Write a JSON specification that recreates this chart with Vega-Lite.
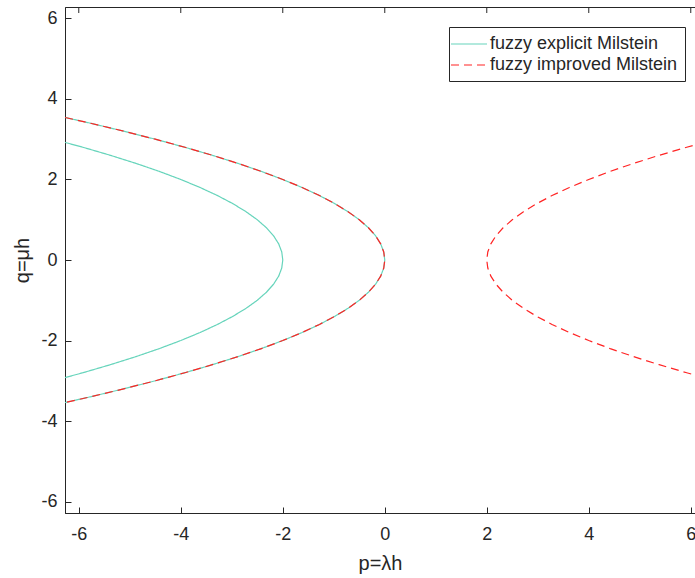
{
  "$schema": "https://vega.github.io/schema/vega-lite/v6.json",
  "width": 630,
  "height": 506,
  "autosize": "none",
  "padding": {"left": 65, "top": 7, "right": 0, "bottom": 65},
  "background": "white",
  "config": {
    "view": {"stroke": "#262626", "strokeWidth": 1},
    "axis": {
      "labelFont": "Liberation Sans",
      "titleFont": "Liberation Sans",
      "labelFontSize": 18,
      "titleFontSize": 20,
      "labelColor": "#262626",
      "titleColor": "#262626",
      "titleFontWeight": "normal",
      "domainColor": "#262626",
      "tickColor": "#262626",
      "tickSize": -6,
      "grid": false
    },
    "legend": {
      "strokeColor": "#262626",
      "fillColor": "white",
      "padding": 7,
      "labelFont": "Liberation Sans",
      "labelFontSize": 18,
      "labelColor": "#262626",
      "labelLimit": 400,
      "symbolType": "M-2,0H2",
      "symbolSize": 324,
      "symbolStrokeWidth": 1.2,
      "symbolOffset": 3,
      "labelOffset": 11,
      "rowPadding": 2,
      "cornerRadius": 0
    }
  },
  "datasets": {
    "curves": [
      {"s": "fuzzy explicit Milstein", "c": "A", "q": -3.0, "p": -6.5},
      {"s": "fuzzy explicit Milstein", "c": "A", "q": -2.8, "p": -5.92},
      {"s": "fuzzy explicit Milstein", "c": "A", "q": -2.6, "p": -5.38},
      {"s": "fuzzy explicit Milstein", "c": "A", "q": -2.4, "p": -4.88},
      {"s": "fuzzy explicit Milstein", "c": "A", "q": -2.2, "p": -4.42},
      {"s": "fuzzy explicit Milstein", "c": "A", "q": -2.0, "p": -4.0},
      {"s": "fuzzy explicit Milstein", "c": "A", "q": -1.8, "p": -3.62},
      {"s": "fuzzy explicit Milstein", "c": "A", "q": -1.6, "p": -3.28},
      {"s": "fuzzy explicit Milstein", "c": "A", "q": -1.4, "p": -2.98},
      {"s": "fuzzy explicit Milstein", "c": "A", "q": -1.2, "p": -2.72},
      {"s": "fuzzy explicit Milstein", "c": "A", "q": -1.0, "p": -2.5},
      {"s": "fuzzy explicit Milstein", "c": "A", "q": -0.8, "p": -2.32},
      {"s": "fuzzy explicit Milstein", "c": "A", "q": -0.6, "p": -2.18},
      {"s": "fuzzy explicit Milstein", "c": "A", "q": -0.4, "p": -2.08},
      {"s": "fuzzy explicit Milstein", "c": "A", "q": -0.2, "p": -2.02},
      {"s": "fuzzy explicit Milstein", "c": "A", "q": 0.0, "p": -2.0},
      {"s": "fuzzy explicit Milstein", "c": "A", "q": 0.2, "p": -2.02},
      {"s": "fuzzy explicit Milstein", "c": "A", "q": 0.4, "p": -2.08},
      {"s": "fuzzy explicit Milstein", "c": "A", "q": 0.6, "p": -2.18},
      {"s": "fuzzy explicit Milstein", "c": "A", "q": 0.8, "p": -2.32},
      {"s": "fuzzy explicit Milstein", "c": "A", "q": 1.0, "p": -2.5},
      {"s": "fuzzy explicit Milstein", "c": "A", "q": 1.2, "p": -2.72},
      {"s": "fuzzy explicit Milstein", "c": "A", "q": 1.4, "p": -2.98},
      {"s": "fuzzy explicit Milstein", "c": "A", "q": 1.6, "p": -3.28},
      {"s": "fuzzy explicit Milstein", "c": "A", "q": 1.8, "p": -3.62},
      {"s": "fuzzy explicit Milstein", "c": "A", "q": 2.0, "p": -4.0},
      {"s": "fuzzy explicit Milstein", "c": "A", "q": 2.2, "p": -4.42},
      {"s": "fuzzy explicit Milstein", "c": "A", "q": 2.4, "p": -4.88},
      {"s": "fuzzy explicit Milstein", "c": "A", "q": 2.6, "p": -5.38},
      {"s": "fuzzy explicit Milstein", "c": "A", "q": 2.8, "p": -5.92},
      {"s": "fuzzy explicit Milstein", "c": "A", "q": 3.0, "p": -6.5},
      {"s": "fuzzy explicit Milstein", "c": "B", "q": -3.6, "p": -6.48},
      {"s": "fuzzy explicit Milstein", "c": "B", "q": -3.4, "p": -5.78},
      {"s": "fuzzy explicit Milstein", "c": "B", "q": -3.2, "p": -5.12},
      {"s": "fuzzy explicit Milstein", "c": "B", "q": -3.0, "p": -4.5},
      {"s": "fuzzy explicit Milstein", "c": "B", "q": -2.8, "p": -3.92},
      {"s": "fuzzy explicit Milstein", "c": "B", "q": -2.6, "p": -3.38},
      {"s": "fuzzy explicit Milstein", "c": "B", "q": -2.4, "p": -2.88},
      {"s": "fuzzy explicit Milstein", "c": "B", "q": -2.2, "p": -2.42},
      {"s": "fuzzy explicit Milstein", "c": "B", "q": -2.0, "p": -2.0},
      {"s": "fuzzy explicit Milstein", "c": "B", "q": -1.8, "p": -1.62},
      {"s": "fuzzy explicit Milstein", "c": "B", "q": -1.6, "p": -1.28},
      {"s": "fuzzy explicit Milstein", "c": "B", "q": -1.4, "p": -0.98},
      {"s": "fuzzy explicit Milstein", "c": "B", "q": -1.2, "p": -0.72},
      {"s": "fuzzy explicit Milstein", "c": "B", "q": -1.0, "p": -0.5},
      {"s": "fuzzy explicit Milstein", "c": "B", "q": -0.8, "p": -0.32},
      {"s": "fuzzy explicit Milstein", "c": "B", "q": -0.6, "p": -0.18},
      {"s": "fuzzy explicit Milstein", "c": "B", "q": -0.4, "p": -0.08},
      {"s": "fuzzy explicit Milstein", "c": "B", "q": -0.2, "p": -0.02},
      {"s": "fuzzy explicit Milstein", "c": "B", "q": 0.0, "p": 0.0},
      {"s": "fuzzy explicit Milstein", "c": "B", "q": 0.2, "p": -0.02},
      {"s": "fuzzy explicit Milstein", "c": "B", "q": 0.4, "p": -0.08},
      {"s": "fuzzy explicit Milstein", "c": "B", "q": 0.6, "p": -0.18},
      {"s": "fuzzy explicit Milstein", "c": "B", "q": 0.8, "p": -0.32},
      {"s": "fuzzy explicit Milstein", "c": "B", "q": 1.0, "p": -0.5},
      {"s": "fuzzy explicit Milstein", "c": "B", "q": 1.2, "p": -0.72},
      {"s": "fuzzy explicit Milstein", "c": "B", "q": 1.4, "p": -0.98},
      {"s": "fuzzy explicit Milstein", "c": "B", "q": 1.6, "p": -1.28},
      {"s": "fuzzy explicit Milstein", "c": "B", "q": 1.8, "p": -1.62},
      {"s": "fuzzy explicit Milstein", "c": "B", "q": 2.0, "p": -2.0},
      {"s": "fuzzy explicit Milstein", "c": "B", "q": 2.2, "p": -2.42},
      {"s": "fuzzy explicit Milstein", "c": "B", "q": 2.4, "p": -2.88},
      {"s": "fuzzy explicit Milstein", "c": "B", "q": 2.6, "p": -3.38},
      {"s": "fuzzy explicit Milstein", "c": "B", "q": 2.8, "p": -3.92},
      {"s": "fuzzy explicit Milstein", "c": "B", "q": 3.0, "p": -4.5},
      {"s": "fuzzy explicit Milstein", "c": "B", "q": 3.2, "p": -5.12},
      {"s": "fuzzy explicit Milstein", "c": "B", "q": 3.4, "p": -5.78},
      {"s": "fuzzy explicit Milstein", "c": "B", "q": 3.6, "p": -6.48},
      {"s": "fuzzy improved Milstein", "c": "B", "q": -3.6, "p": -6.48},
      {"s": "fuzzy improved Milstein", "c": "B", "q": -3.4, "p": -5.78},
      {"s": "fuzzy improved Milstein", "c": "B", "q": -3.2, "p": -5.12},
      {"s": "fuzzy improved Milstein", "c": "B", "q": -3.0, "p": -4.5},
      {"s": "fuzzy improved Milstein", "c": "B", "q": -2.8, "p": -3.92},
      {"s": "fuzzy improved Milstein", "c": "B", "q": -2.6, "p": -3.38},
      {"s": "fuzzy improved Milstein", "c": "B", "q": -2.4, "p": -2.88},
      {"s": "fuzzy improved Milstein", "c": "B", "q": -2.2, "p": -2.42},
      {"s": "fuzzy improved Milstein", "c": "B", "q": -2.0, "p": -2.0},
      {"s": "fuzzy improved Milstein", "c": "B", "q": -1.8, "p": -1.62},
      {"s": "fuzzy improved Milstein", "c": "B", "q": -1.6, "p": -1.28},
      {"s": "fuzzy improved Milstein", "c": "B", "q": -1.4, "p": -0.98},
      {"s": "fuzzy improved Milstein", "c": "B", "q": -1.2, "p": -0.72},
      {"s": "fuzzy improved Milstein", "c": "B", "q": -1.0, "p": -0.5},
      {"s": "fuzzy improved Milstein", "c": "B", "q": -0.8, "p": -0.32},
      {"s": "fuzzy improved Milstein", "c": "B", "q": -0.6, "p": -0.18},
      {"s": "fuzzy improved Milstein", "c": "B", "q": -0.4, "p": -0.08},
      {"s": "fuzzy improved Milstein", "c": "B", "q": -0.2, "p": -0.02},
      {"s": "fuzzy improved Milstein", "c": "B", "q": 0.0, "p": 0.0},
      {"s": "fuzzy improved Milstein", "c": "B", "q": 0.2, "p": -0.02},
      {"s": "fuzzy improved Milstein", "c": "B", "q": 0.4, "p": -0.08},
      {"s": "fuzzy improved Milstein", "c": "B", "q": 0.6, "p": -0.18},
      {"s": "fuzzy improved Milstein", "c": "B", "q": 0.8, "p": -0.32},
      {"s": "fuzzy improved Milstein", "c": "B", "q": 1.0, "p": -0.5},
      {"s": "fuzzy improved Milstein", "c": "B", "q": 1.2, "p": -0.72},
      {"s": "fuzzy improved Milstein", "c": "B", "q": 1.4, "p": -0.98},
      {"s": "fuzzy improved Milstein", "c": "B", "q": 1.6, "p": -1.28},
      {"s": "fuzzy improved Milstein", "c": "B", "q": 1.8, "p": -1.62},
      {"s": "fuzzy improved Milstein", "c": "B", "q": 2.0, "p": -2.0},
      {"s": "fuzzy improved Milstein", "c": "B", "q": 2.2, "p": -2.42},
      {"s": "fuzzy improved Milstein", "c": "B", "q": 2.4, "p": -2.88},
      {"s": "fuzzy improved Milstein", "c": "B", "q": 2.6, "p": -3.38},
      {"s": "fuzzy improved Milstein", "c": "B", "q": 2.8, "p": -3.92},
      {"s": "fuzzy improved Milstein", "c": "B", "q": 3.0, "p": -4.5},
      {"s": "fuzzy improved Milstein", "c": "B", "q": 3.2, "p": -5.12},
      {"s": "fuzzy improved Milstein", "c": "B", "q": 3.4, "p": -5.78},
      {"s": "fuzzy improved Milstein", "c": "B", "q": 3.6, "p": -6.48},
      {"s": "fuzzy improved Milstein", "c": "C", "q": -3.0, "p": 6.5},
      {"s": "fuzzy improved Milstein", "c": "C", "q": -2.8, "p": 5.92},
      {"s": "fuzzy improved Milstein", "c": "C", "q": -2.6, "p": 5.38},
      {"s": "fuzzy improved Milstein", "c": "C", "q": -2.4, "p": 4.88},
      {"s": "fuzzy improved Milstein", "c": "C", "q": -2.2, "p": 4.42},
      {"s": "fuzzy improved Milstein", "c": "C", "q": -2.0, "p": 4.0},
      {"s": "fuzzy improved Milstein", "c": "C", "q": -1.8, "p": 3.62},
      {"s": "fuzzy improved Milstein", "c": "C", "q": -1.6, "p": 3.28},
      {"s": "fuzzy improved Milstein", "c": "C", "q": -1.4, "p": 2.98},
      {"s": "fuzzy improved Milstein", "c": "C", "q": -1.2, "p": 2.72},
      {"s": "fuzzy improved Milstein", "c": "C", "q": -1.0, "p": 2.5},
      {"s": "fuzzy improved Milstein", "c": "C", "q": -0.8, "p": 2.32},
      {"s": "fuzzy improved Milstein", "c": "C", "q": -0.6, "p": 2.18},
      {"s": "fuzzy improved Milstein", "c": "C", "q": -0.4, "p": 2.08},
      {"s": "fuzzy improved Milstein", "c": "C", "q": -0.2, "p": 2.02},
      {"s": "fuzzy improved Milstein", "c": "C", "q": 0.0, "p": 2.0},
      {"s": "fuzzy improved Milstein", "c": "C", "q": 0.2, "p": 2.02},
      {"s": "fuzzy improved Milstein", "c": "C", "q": 0.4, "p": 2.08},
      {"s": "fuzzy improved Milstein", "c": "C", "q": 0.6, "p": 2.18},
      {"s": "fuzzy improved Milstein", "c": "C", "q": 0.8, "p": 2.32},
      {"s": "fuzzy improved Milstein", "c": "C", "q": 1.0, "p": 2.5},
      {"s": "fuzzy improved Milstein", "c": "C", "q": 1.2, "p": 2.72},
      {"s": "fuzzy improved Milstein", "c": "C", "q": 1.4, "p": 2.98},
      {"s": "fuzzy improved Milstein", "c": "C", "q": 1.6, "p": 3.28},
      {"s": "fuzzy improved Milstein", "c": "C", "q": 1.8, "p": 3.62},
      {"s": "fuzzy improved Milstein", "c": "C", "q": 2.0, "p": 4.0},
      {"s": "fuzzy improved Milstein", "c": "C", "q": 2.2, "p": 4.42},
      {"s": "fuzzy improved Milstein", "c": "C", "q": 2.4, "p": 4.88},
      {"s": "fuzzy improved Milstein", "c": "C", "q": 2.6, "p": 5.38},
      {"s": "fuzzy improved Milstein", "c": "C", "q": 2.8, "p": 5.92},
      {"s": "fuzzy improved Milstein", "c": "C", "q": 3.0, "p": 6.5}
    ]
  },
  "layer": [
    {
      "data": {"name": "curves"},
      "transform": [{"filter": "datum.s == 'fuzzy explicit Milstein'"}],
      "mark": {"type": "line", "clip": true, "strokeWidth": 1.2},
      "encoding": {
        "x": {
          "field": "p", "type": "quantitative",
          "scale": {"domain": [-6.27, 6.083], "nice": false, "zero": false},
          "axis": {"orient": "bottom", "values": [-6, -4, -2, 0, 2, 4, 6], "title": "p=λh", "labelExpr": "datum.value < 0 ? '-' + abs(datum.value) : '' + datum.value", "labelPadding": 18, "titlePadding": 10}
        },
        "y": {
          "field": "q", "type": "quantitative",
          "scale": {"domain": [-6.2832, 6.2832], "nice": false, "zero": false},
          "axis": {"values": [-6, -4, -2, 0, 2, 4, 6], "title": "q=μh", "labelExpr": "datum.value < 0 ? '-' + abs(datum.value) : '' + datum.value", "labelPadding": 14, "titlePadding": 8}
        },
        "detail": {"field": "c"},
        "order": {"field": "q", "type": "quantitative"},
        "color": {
          "field": "s", "type": "nominal",
          "scale": {"domain": ["fuzzy explicit Milstein", "fuzzy improved Milstein"], "range": ["#66d4bb", "#ff2424"]},
          "legend": {"title": null, "orient": "none", "legendX": 384, "legendY": 20}
        },
        "strokeDash": {
          "field": "s", "type": "nominal",
          "scale": {"domain": ["fuzzy explicit Milstein", "fuzzy improved Milstein"], "range": [[1, 0], [8, 5]]},
          "legend": {"title": null, "orient": "none", "legendX": 384, "legendY": 20}
        }
      }
    },
    {
      "data": {"name": "curves"},
      "transform": [{"filter": "datum.s == 'fuzzy improved Milstein'"}],
      "mark": {"type": "line", "clip": true, "strokeWidth": 1.2},
      "encoding": {
        "x": {"field": "p", "type": "quantitative"},
        "y": {"field": "q", "type": "quantitative"},
        "detail": {"field": "c"},
        "order": {"field": "q", "type": "quantitative"},
        "color": {"field": "s", "type": "nominal"},
        "strokeDash": {"field": "s", "type": "nominal"}
      }
    },
    {
      "data": {"values": [{"t": -6}, {"t": -4}, {"t": -2}, {"t": 0}, {"t": 2}, {"t": 4}, {"t": 6}]},
      "mark": {"type": "rule", "color": "#262626", "strokeWidth": 1},
      "encoding": {
        "x": {"field": "t", "type": "quantitative"},
        "y": {"datum": 6.2832},
        "y2": {"datum": 6.134}
      }
    }
  ]
}
